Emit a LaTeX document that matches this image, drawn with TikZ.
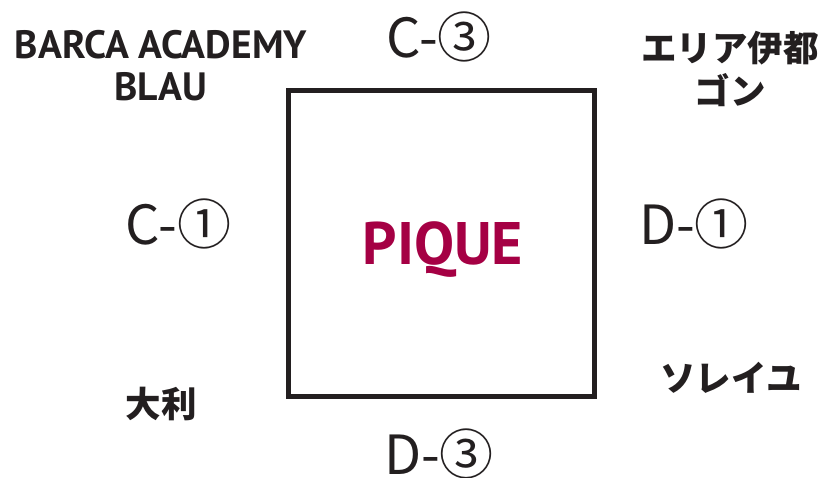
\documentclass[tikz,border=0pt]{standalone}
\usepackage{fontspec}
\newfontfamily\jpfont{Noto Sans CJK JP}
\newfontfamily\latfont{PT Sans}
\definecolor{ink}{HTML}{231F20}
\definecolor{barca}{HTML}{A50044}
\begin{document}
\begin{tikzpicture}[x=1pt,y=-1pt,
  boldlab/.style={inner sep=0pt,text=ink,font=\latfont\bfseries\fontsize{39.5}{42}\selectfont,align=center},
  jplab/.style={inner sep=0pt,text=ink,font=\jpfont\bfseries\fontsize{35.5}{43}\selectfont,align=center},
  thinlab/.style={inner sep=0pt,text=ink,font=\jpfont\fontsize{54}{56}\selectfont,anchor=base},
  box/.style={draw=ink,line width=5pt,minimum width=306pt,minimum height=306pt,inner sep=0pt}]
\useasboundingbox (0,0) rectangle (827,478);
\node[box] (sq) at (441.5,243.25) {};
\node[inner sep=0pt,anchor=base,text=barca,font=\latfont\bfseries\fontsize{60}{60}\selectfont] (pique) at (443,265) {PIQUE};
\node[boldlab] (barca) at (161,66) {BARCA ACADEMY\\BLAU};
\node[jplab] (itogon) at (730,69) {エリア伊都\\ゴン};
\node[jplab] (daiti) at (161,404) {大利};
\node[jplab] (soleil) at (731,378) {ソレイユ};
\node[thinlab] (c3) at (439,58) {C-③};
\node[thinlab] (c1) at (178.5,245) {C-①};
\node[thinlab] (d1) at (694,245) {D-①};
\node[thinlab] (d3) at (439,474) {D-③};
\end{tikzpicture}
\end{document}
